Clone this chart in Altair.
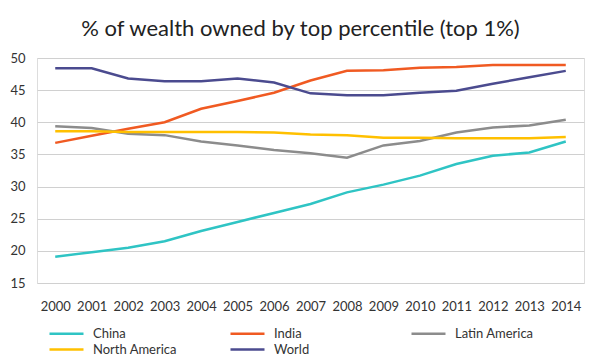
import altair as alt
import pandas as pd

years = [str(y) for y in range(2000, 2015)]
china = [19.1, 19.8, 20.5, 21.5, 23.1, 24.5, 25.9, 27.3, 29.1, 30.3, 31.7, 33.5, 34.8, 35.3, 37.0]
india = [36.8, 37.9, 39.0, 40.0, 42.1, 43.3, 44.6, 46.5, 48.0, 48.1, 48.5, 48.6, 48.9, 48.9, 48.9]
latin_america = [39.4, 39.1, 38.2, 38.0, 37.0, 36.4, 35.7, 35.2, 34.5, 36.4, 37.1, 38.4, 39.2, 39.5, 40.4]
north_america = [38.6, 38.6, 38.5, 38.5, 38.5, 38.5, 38.4, 38.1, 38.0, 37.6, 37.6, 37.5, 37.5, 37.5, 37.7]
world = [48.4, 48.4, 46.8, 46.4, 46.4, 46.8, 46.2, 44.5, 44.2, 44.2, 44.6, 44.9, 46.0, 47.0, 48.0]

series_names = ["China", "India", "Latin America", "North America", "World"]
series_values = [china, india, latin_america, north_america, world]
series_colors = ["#2fc4c4", "#f05a22", "#8c8c8c", "#ffc000", "#4b4b8f"]
y_ticks = [15, 20, 25, 30, 35, 40, 45, 50]

rows = []
for name, vals in zip(series_names, series_values):
    for yr, v in zip(years, vals):
        rows.append({"year": yr, "series": name, "value": v})
df = pd.DataFrame(rows)

FONT = "Lato"

chart = alt.Chart(df).mark_line(strokeWidth=2.5).encode(
    x=alt.X(
        "year:O",
        sort=years,
        scale=alt.Scale(type="point", padding=0.5),
        axis=alt.Axis(
            title=None, labelAngle=0, ticks=False, domain=False, grid=False,
            labelPadding=17, labelFontSize=13, labelColor="#333333", labelFont=FONT,
        ),
    ),
    y=alt.Y(
        "value:Q",
        scale=alt.Scale(domain=[15, 50], nice=False, zero=False),
        axis=alt.Axis(
            title=None, values=y_ticks, ticks=False, domain=False,
            labelPadding=12, labelFontSize=13, labelColor="#333333", labelFont=FONT,
            gridColor="#d0d0d0", gridWidth=1,
        ),
    ),
    color=alt.Color(
        "series:N",
        scale=alt.Scale(domain=series_names, range=series_colors),
        legend=alt.Legend(
            title=None, orient="none", direction="horizontal",
            legendX=11, legendY=267, columns=3,
            symbolType="M-1,0H3.857", symbolSize=196, symbolStrokeWidth=2.5,
            labelFontSize=13, labelFont=FONT, labelColor="#333333", labelOffset=28,
            columnPadding=48, rowPadding=-1, gridAlign="all", padding=0,
        ),
    ),
).properties(
    width=547,
    height=225,
    title=alt.TitleParams(
        "% of wealth owned by top percentile (top 1%)",
        fontSize=22, font=FONT, fontWeight="normal", color="#222222",
        anchor="middle", offset=11, dx=-10,
    ),
    padding={"left": 29, "top": 50, "right": 8, "bottom": 72},
    autosize=alt.AutoSizeParams(type="none"),
).configure_view(stroke=None).configure(background="white")

chart.save("out.html", embed_options={"renderer": "svg", "actions": False})
